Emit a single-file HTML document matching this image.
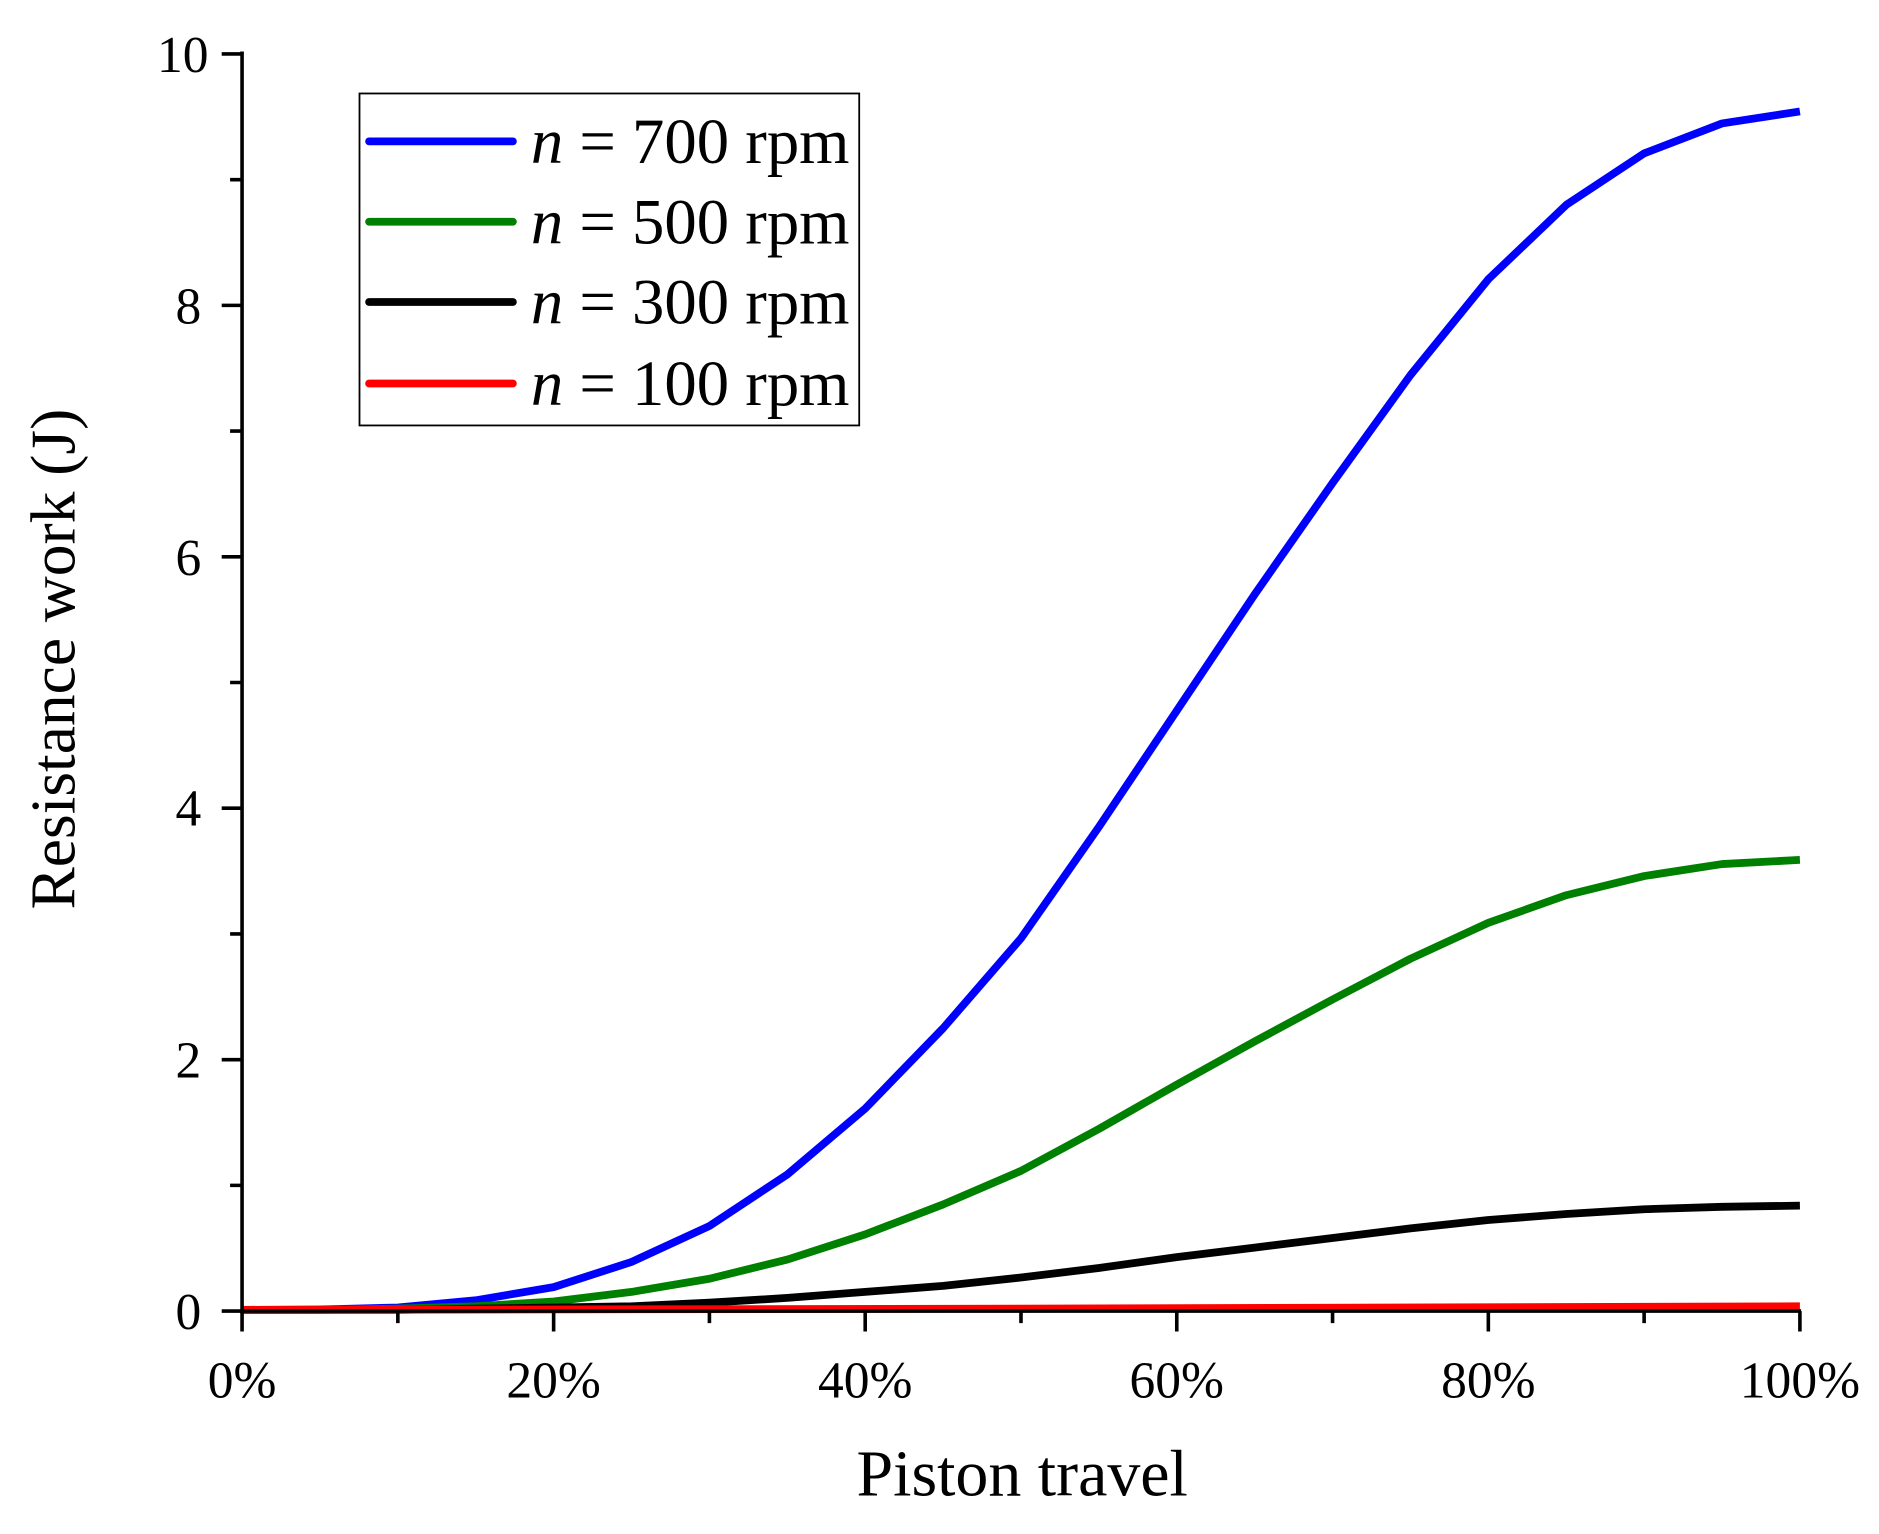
<!DOCTYPE html>
<html><head><meta charset="utf-8"><style>html,body{margin:0;padding:0;background:#fff}svg{display:block}</style></head>
<body>
<svg width="1879" height="1534" viewBox="0 0 1568 1280" preserveAspectRatio="none" xmlns="http://www.w3.org/2000/svg" font-family="Liberation Serif, serif">
<rect width="1568" height="1280" fill="#fff"/>
<g fill="none" stroke-width="6.5" stroke-linejoin="round" stroke-linecap="butt">
<polyline stroke="#0000ff" points="202,1093 267,1092.7 332,1091 397,1085 462,1074 527,1053 592,1023 657,980 722,925 787,858 852,783 917,690 982,593 1047,496 1112,403 1177,313 1242,233 1307,171 1372,128 1437,103 1502,93"/>
<polyline stroke="#008000" points="202,1093 267,1093 332,1092 397,1090 462,1086 527,1078 592,1067 657,1051 722,1030 787,1005 852,977 917,942 982,905 1047,869 1112,834 1177,800 1242,770 1307,747 1372,731 1437,721 1502,717.5"/>
<polyline stroke="#000" points="202,1093 267,1093 332,1093 397,1092 462,1091 527,1090 592,1087 657,1083 722,1078 787,1073 852,1066 917,1058 982,1049 1047,1041 1112,1033 1177,1025 1242,1018 1307,1013 1372,1009 1437,1007 1502,1006"/>
<polyline stroke="#ff0000" points="202,1093 852,1092 1502,1090"/>
</g>
<g stroke="#000" stroke-width="3" fill="none">
<line x1="202" y1="43" x2="202" y2="1096"/>
<line x1="200" y1="1094" x2="1503" y2="1094"/>
<path d="M185 1094H202M192 989.1H202M185 884.2H202M192 779.3H202M185 674.4H202M192 569.5H202M185 464.6H202M192 359.7H202M185 254.8H202M192 149.9H202M185 45H202"/>
<path d="M202 1094V1111M332 1094V1104M462 1094V1111M592 1094V1104M722 1094V1111M852 1094V1104M982 1094V1111M1112 1094V1104M1242 1094V1111M1372 1094V1104M1502 1094V1111"/>
</g>
<g font-size="43" fill="#000" text-anchor="end">
<text x="174" y="60">10</text><text x="168" y="270">8</text><text x="168" y="480">6</text><text x="168" y="689">4</text><text x="168" y="899">2</text><text x="168" y="1109">0</text>
</g>
<g font-size="43" fill="#000" text-anchor="middle">
<text x="202" y="1166">0%</text><text x="462" y="1166">20%</text><text x="722" y="1166">40%</text><text x="982" y="1166">60%</text><text x="1242" y="1166">80%</text><text x="1502" y="1166">100%</text>
</g>
<text x="853" y="1248" font-size="55" text-anchor="middle">Piston travel</text>
<text transform="translate(62,550) rotate(-90)" font-size="53" text-anchor="middle">Resistance work (J)</text>
<rect x="300" y="78" width="417" height="277" fill="#fff" stroke="#000" stroke-width="1.5"/>
<g stroke-width="6.5" stroke-linecap="round">
<line x1="308" y1="118" x2="428" y2="118" stroke="#0000ff"/>
<line x1="308" y1="185" x2="428" y2="185" stroke="#008000"/>
<line x1="308" y1="252" x2="428" y2="252" stroke="#000"/>
<line x1="308" y1="320" x2="428" y2="320" stroke="#ff0000"/>
</g>
<g font-size="54" fill="#000">
<text x="443" y="136"><tspan font-style="italic">n</tspan> = 700 rpm</text>
<text x="443" y="203"><tspan font-style="italic">n</tspan> = 500 rpm</text>
<text x="443" y="270"><tspan font-style="italic">n</tspan> = 300 rpm</text>
<text x="443" y="338"><tspan font-style="italic">n</tspan> = 100 rpm</text>
</g>
</svg>
</body></html>
